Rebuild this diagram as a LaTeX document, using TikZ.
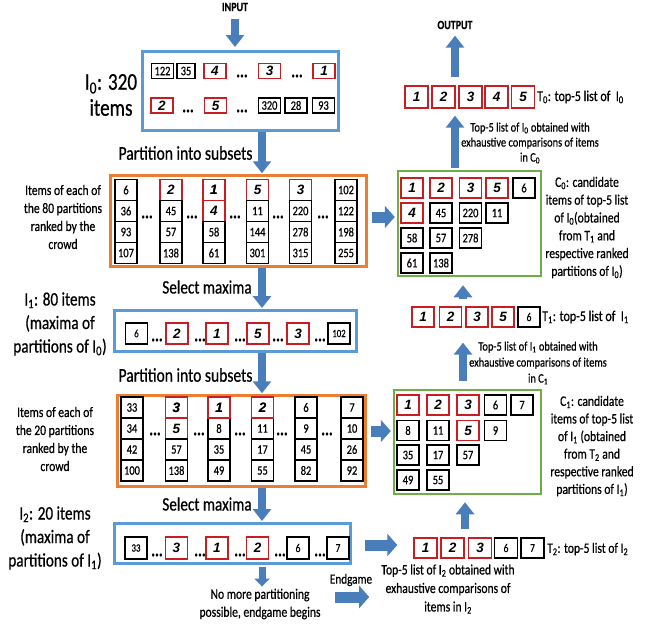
\documentclass[tikz,border=0pt]{standalone}
\usepackage{fontspec}
\setmainfont{Carlito}[FakeStretch=0.8,FakeBold=0.6]
\newfontfamily\rnf{Liberation Sans}
\usetikzlibrary{arrows.meta}
\definecolor{arrowc}{RGB}{74,126,187}
\definecolor{blueb}{RGB}{91,155,213}
\definecolor{orangeb}{RGB}{237,125,49}
\definecolor{greenb}{RGB}{112,173,71}
\definecolor{redb}{RGB}{200,30,35}
\newcommand{\fs}[2]{\fontsize{#1}{#2}\selectfont}
\newcommand{\nbx}[3]{\node[nb] (#1) at (#2) {#3};}
\newcommand{\rbx}[3]{\node[rb] (#1) at (#2) {#3};}
\newcommand{\dts}[2]{\node[dts] (#1) at (#2) {...};}
\tikzset{
  nb/.style={draw=black, line width=1.4pt, minimum width=22pt, minimum height=21pt, inner sep=0pt, font=\fs{13}{13}},
  rb/.style={nb, draw=redb, font=\rnf\bfseries\itshape\fs{13.5}{13.5}},
  dts/.style={font=\bfseries\fs{18}{18}, inner sep=0pt},
  bigbox/.style={line width=3pt, inner sep=0pt},
  varrow/.style={draw=arrowc, line width=8.5pt, -{Triangle[length=12pt,width=18pt]}},
  harrow/.style={draw=arrowc, line width=11pt, -{Triangle[length=10pt,width=22pt]}},
  lab/.style={align=center, inner sep=0pt},
}
\begin{document}
\begin{tikzpicture}[x=1pt,y=-1pt]
\useasboundingbox (0,0) rectangle (647,624);
\coordinate (ax) at (262,0);
\coordinate (vx0) at (455,0);
\coordinate (vx1) at (463,0);
\coordinate (vx2) at (465,0);
\coordinate (hy0) at (0,217);
\coordinate (hy1) at (0,431);
\coordinate (hy2) at (0,545);
\coordinate (ey) at (0,597);

% ---------- left column big boxes ----------
\node[bigbox, draw=blueb, minimum width=196pt, minimum height=79pt] (i0) at (240.5,91) {};
\node[bigbox, draw=orangeb, line width=2.5pt, minimum width=256pt, minimum height=91pt] (p0) at (238.5,221) {};
\node[bigbox, draw=blueb, minimum width=242pt, minimum height=41pt] (i1) at (235.5,331) {};
\node[bigbox, draw=orangeb, line width=2.5pt, minimum width=248pt, minimum height=91pt] (p1) at (241.5,441) {};
\node[bigbox, draw=blueb, minimum width=236pt, minimum height=40pt] (i2) at (232.5,543.5) {};

% ---------- text labels left ----------
\node[font=\bfseries\fs{12.5}{14}] (input) at (235,7) {INPUT};
\node[lab, font=\fs{24}{26}] (i0lab) at (111,95) {I\textsubscript{0}: 320\\items};
\node[lab, font=\fs{19.5}{22}] (ptxt0) at (185.5,153) {Partition into subsets};
\node[lab, font=\fs{14.5}{18}] (p0lab) at (63,217) {Items of each of\\the 80 partitions\\ranked by the\\crowd};
\node[lab, font=\fs{19}{22}] (sm0) at (207,287) {Select maxima};
\node[lab, font=\fs{19}{23.5}] (i1lab) at (60,324) {I\textsubscript{1}: 80 items\\(maxima of\\partitions of I\textsubscript{0})};
\node[lab, font=\fs{19.5}{22}] (ptxt1) at (185.5,375) {Partition into subsets};
\node[lab, font=\fs{14.5}{18}] (p1lab) at (55,439) {Items of each of\\the 20 partitions\\ranked by the\\crowd};
\node[lab, font=\fs{19}{22}] (sm1) at (207,504) {Select maxima};
\node[lab, font=\fs{19}{23.5}] (i2lab) at (55,538) {I\textsubscript{2}: 20 items\\(maxima of\\partitions of I\textsubscript{1})};
\node[lab, font=\fs{14.5}{18}] (nomore) at (260,604) {No more partitioning\\possible, endgame begins};
\node[lab, font=\fs{14}{16}] (endg) at (351,580) {Endgame};

% ---------- I0 contents ----------
\begin{scope}[nb/.append style={minimum height=15pt}]
\nbx{a1}{162.5,71}{122}
\node[nb, minimum width=18pt] (a2) at (186,71) {35};
\rbx{a3}{215,71}{4}
\dts{ad1}{242,76}
\rbx{a4}{269.5,71}{3}
\dts{ad2}{297,76}
\rbx{a5}{324,71}{1}
\rbx{b1}{162,105.5}{2}
\dts{bd1}{188,111}
\rbx{b2}{215.5,105.5}{5}
\dts{bd2}{242,111}
\nbx{b3}{269.5,105.5}{320}
\nbx{b4}{296,105.5}{28}
\nbx{b5}{323.5,105.5}{93}
\end{scope}

% ---------- P0 contents ----------
\nbx{p0a1}{126,190}{6}   \nbx{p0a2}{126,211}{36}  \nbx{p0a3}{126,232}{93}  \nbx{p0a4}{126,253}{107}
\rbx{p0b1}{171,190}{2}   \nbx{p0b2}{171,211}{45}  \nbx{p0b3}{171,232}{57}  \nbx{p0b4}{171,253}{138}
\rbx{p0c1}{214,190}{1}   \rbx{p0c2}{214,211}{4}   \nbx{p0c3}{214,232}{58}  \nbx{p0c4}{214,253}{61}
\rbx{p0d1}{257.5,190}{5} \nbx{p0d2}{257.5,211}{11} \nbx{p0d3}{257.5,232}{144} \nbx{p0d4}{257.5,253}{301}
\rbx{p0e1}{300.5,190}{3} \nbx{p0e2}{300.5,211}{220} \nbx{p0e3}{300.5,232}{278} \nbx{p0e4}{300.5,253}{315}
\nbx{p0f1}{346,190}{102} \nbx{p0f2}{346,211}{122} \nbx{p0f3}{346,232}{198} \nbx{p0f4}{346,253}{255}
\rbx{p0c1}{214,190}{1}
\dts{pd1}{147,217} \dts{pd2}{192,217} \dts{pd3}{235,217} \dts{pd4}{278,217} \dts{pd5}{323,217}

% ---------- I1 contents ----------
\node[nb, font=\fs{11}{11}] (c1) at (136.5,333.5) {6};
\dts{cd1}{157,340}
\rbx{c2}{177,333.5}{2}
\dts{cd2}{200,340}
\rbx{c3}{217,333.5}{1}
\dts{cd3}{240,340}
\rbx{c4}{258,333.5}{5}
\dts{cd4}{278,340}
\rbx{c5}{298,333.5}{3}
\dts{cd5}{320,340}
\node[nb, font=\fs{11}{11}] (c6) at (339,333.5) {102};

% ---------- P1 contents ----------
\nbx{p1a1}{132,407.5}{33}  \nbx{p1a2}{132,428.5}{34}  \nbx{p1a3}{132,449.5}{42}  \nbx{p1a4}{132,470.5}{100}
\rbx{p1b1}{176.5,407.5}{3} \rbx{p1b2}{176.5,428.5}{5} \nbx{p1b3}{176.5,449.5}{57} \nbx{p1b4}{176.5,470.5}{138}
\rbx{p1c1}{219,407.5}{1}   \nbx{p1c2}{219,428.5}{8}   \nbx{p1c3}{219,449.5}{35}  \nbx{p1c4}{219,470.5}{49}
\rbx{p1d1}{262.5,407.5}{2} \nbx{p1d2}{262.5,428.5}{11} \nbx{p1d3}{262.5,449.5}{17} \nbx{p1d4}{262.5,470.5}{55}
\nbx{p1e1}{306,407.5}{6}   \nbx{p1e2}{306,428.5}{9}   \nbx{p1e3}{306,449.5}{45}  \nbx{p1e4}{306,470.5}{82}
\nbx{p1f1}{352,407.5}{7}   \nbx{p1f2}{352,428.5}{10}  \nbx{p1f3}{352,449.5}{26}  \nbx{p1f4}{352,470.5}{92}
\rbx{p1b1}{176.5,407.5}{3} \rbx{p1c1}{219,407.5}{1} \rbx{p1d1}{262.5,407.5}{2}
\dts{qd1}{155,434} \dts{qd2}{199,434} \dts{qd3}{240,434} \dts{qd4}{282,434} \dts{qd5}{327,434}

% ---------- I2 contents ----------
\begin{scope}[nb/.append style={minimum height=22pt}]
\node[nb, font=\fs{11}{11}] (d1) at (136,548) {33};
\dts{dd1}{157,555}
\rbx{d2}{176.5,548}{3}
\dts{dd2}{200,555}
\rbx{d3}{217,548}{1}
\dts{dd3}{240,555}
\rbx{d4}{257.5,548}{2}
\dts{dd4}{280,555}
\node[nb, font=\fs{12}{12}] (d5) at (298,548) {6};
\dts{dd5}{320,555}
\node[nb, font=\fs{12}{12}] (d6) at (338,548) {7};
\end{scope}

% ---------- right column ----------
\node[font=\bfseries\fs{12.5}{14}] (output) at (455,25) {OUTPUT};

\begin{scope}[nb/.append style={minimum width=23pt, minimum height=22pt}]
\rbx{t0a}{416.5,97}{1} \rbx{t0b}{443.5,97}{2} \rbx{t0c}{470.5,97}{3} \rbx{t0d}{496.5,97}{4} \rbx{t0e}{523,97}{5}
\end{scope}
\node[anchor=west, inner sep=0pt, font=\fs{15}{17}] (t0lab) at (537,97) {T\textsubscript{0}: top-5 list of\ \ I\textsubscript{0}};
\node[lab, font=\fs{13}{15}] (top0) at (530,143) {Top-5 list of I\textsubscript{0} obtained with\\exhaustive comparisons of items\\in C\textsubscript{0}};

\node[bigbox, draw=greenb, line width=2.5pt, minimum width=143pt, minimum height=105pt] (c0) at (469.5,223.5) {};
\begin{scope}[nb/.append style={minimum height=20pt}]
\rbx{k11}{412,188}{1} \rbx{k12}{441,188}{2} \rbx{k13}{470.5,188}{3} \rbx{k14}{497,188}{5} \nbx{k15}{524,188}{6}
\rbx{k21}{412,213}{4} \nbx{k22}{441,213}{45} \nbx{k23}{470.5,213}{220} \nbx{k24}{497,213}{11}
\nbx{k31}{412,238}{58} \nbx{k32}{441,238}{57} \nbx{k33}{470.5,238}{278}
\nbx{k41}{412,263}{61} \nbx{k42}{441,263}{138}
\end{scope}
\node[lab, font=\fs{14.5}{17.8}] (c0lab) at (587,227.5) {C\textsubscript{0}: candidate\\items of top-5 list\\of I\textsubscript{0}(obtained\\from T\textsubscript{1} and\\respective ranked\\partitions of I\textsubscript{0})};

\begin{scope}[nb/.append style={minimum height=20pt}]
\rbx{t1a}{423,317}{1} \rbx{t1b}{450.5,317}{2} \rbx{t1c}{477,317}{3} \rbx{t1d}{503,317}{5}
\node[nb, font=\fs{12}{12}] (t1e) at (529,317) {6};
\end{scope}
\node[anchor=west, inner sep=0pt, font=\fs{15}{17}] (t1lab) at (542,317) {T\textsubscript{1}: top-5 list of\ \ I\textsubscript{1}};
\node[lab, font=\fs{13}{16}] (top1) at (538,363) {Top-5 list of I\textsubscript{1} obtained with\\exhaustive comparisons of items\\in C\textsubscript{1}};

\node[bigbox, draw=greenb, line width=2.5pt, minimum width=147pt, minimum height=104pt] (cc1) at (467.5,442) {};
\begin{scope}[nb/.append style={minimum height=20pt}]
\rbx{m11}{408,405}{1} \rbx{m12}{438,405}{2} \rbx{m13}{468,405}{3} \nbx{m14}{495.5,405}{6} \nbx{m15}{522,405}{7}
\nbx{m21}{408,430.5}{8} \nbx{m22}{438,430.5}{11} \rbx{m23}{468,430.5}{5} \nbx{m24}{495.5,430.5}{9}
\nbx{m31}{408,455}{35} \nbx{m32}{438,455}{17} \nbx{m33}{468,455}{57}
\nbx{m41}{408,480}{49} \nbx{m42}{438,480}{55}
\end{scope}
\node[lab, font=\fs{14.5}{17.6}] (c1lab) at (592,446) {C\textsubscript{1}: candidate\\items of top-5 list\\of I\textsubscript{1} (obtained\\from T\textsubscript{2} and\\respective ranked\\partitions of I\textsubscript{1})};

\begin{scope}[nb/.append style={minimum width=23pt, minimum height=20pt}]
\rbx{t2a}{425.5,548}{1} \rbx{t2b}{452.5,548}{2} \rbx{t2c}{480,548}{3}
\node[nb, font=\fs{12}{12}] (t2d) at (506,548) {6};
\node[nb, font=\fs{12}{12}] (t2e) at (532.5,548) {7};
\end{scope}
\node[anchor=west, inner sep=0pt, font=\fs{14.5}{17}] (t2lab) at (547,549) {T\textsubscript{2}: top-5 list of I\textsubscript{2}};
\node[lab, font=\fs{14.5}{18.5}] (top2) at (448,589) {Top-5 list of I\textsubscript{2} obtained with\\exhaustive comparisons of\\items in I\textsubscript{2}};

% ---------- arrows ----------
\draw[varrow, shorten <=4pt, shorten >=3pt] (input.south) -- (input.south |- i0.north);
\draw[varrow, shorten >=1pt] (i0.south -| ax) -- (p0.north -| ax);
\draw[varrow, shorten >=1pt] (p0.south -| ax) -- (i1.north -| ax);
\draw[varrow, shorten >=1pt] (i1.south -| ax) -- (p1.north -| ax);
\draw[varrow, shorten >=1pt] (p1.south -| ax) -- (i2.north -| ax);
\draw[varrow, line width=7pt, -{Triangle[length=8pt,width=15pt]}, shorten <=2pt, shorten >=2pt] (i2.south -| ax) -- (nomore.north -| ax);
\draw[harrow, shorten <=14pt, shorten >=12pt] (nomore.east |- ey) -- (top2.west |- ey);
\draw[harrow, shorten <=13pt, shorten >=16pt] (i2.east |- hy2) -- (t2a.west |- hy2);
\draw[harrow, shorten <=4pt, shorten >=2pt] (p0.east |- hy0) -- (c0.west |- hy0);
\draw[harrow, shorten <=4pt, shorten >=2pt] (p1.east |- hy1) -- (cc1.west |- hy1);
\draw[varrow, shorten <=8pt, shorten >=7pt] (t2b.north -| vx2) -- (cc1.south -| vx2);
\draw[varrow, shorten <=8pt, shorten >=15pt] (cc1.north -| vx1) -- (t1b.south -| vx1);
\draw[varrow, shorten <=7pt, shorten >=8pt] (t1b.north -| vx1) -- (c0.south -| vx1);
\draw[varrow, shorten <=2pt, shorten >=7pt] (c0.north -| vx0) -- (t0b.south -| vx0);
\draw[varrow, shorten <=8pt, shorten >=3pt] (t0b.north -| vx0) -- (output.south);
\end{tikzpicture}
\end{document}
